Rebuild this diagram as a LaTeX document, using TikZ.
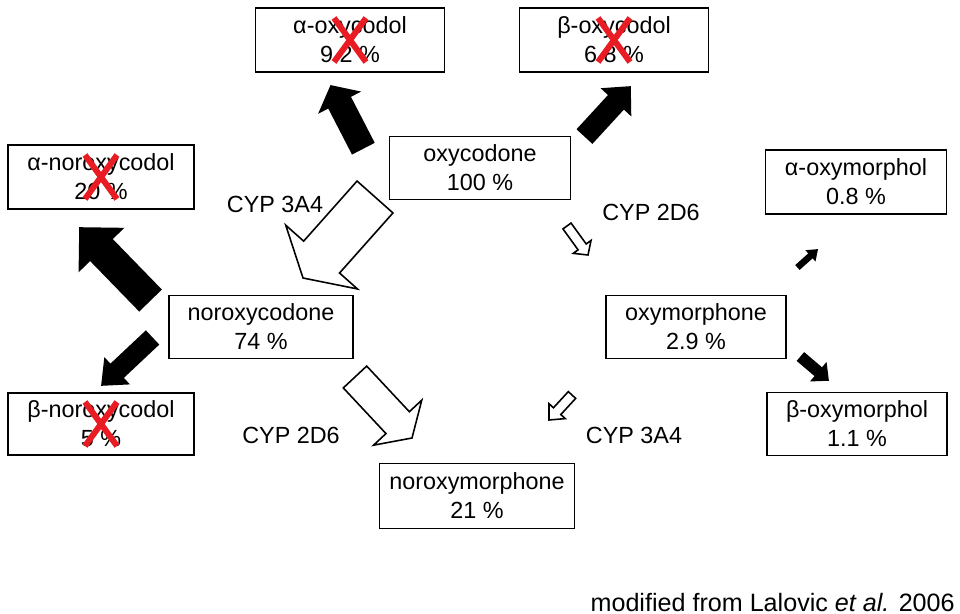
\documentclass[tikz,border=0pt]{standalone}
\usepackage{fontspec}
\setmainfont{Liberation Sans}
\usepackage{xcolor}
\definecolor{xred}{RGB}{232,28,34}
\usepackage{tikz}
\usetikzlibrary{calc}

\tikzset{
  metab/.style={draw, line width=1.1pt, align=center,
    minimum height=1.28cm, inner sep=2pt},
  blockarrow/.style={draw=black, line width=0.9pt, line join=miter},
  redx/.pic={\draw[xred, line width=3.4pt] (-16,-22) -- (16,22) (-16,22) -- (16,-22);}
}

% block arrow: tail, tip, shaft half width, head half width, head length, fill
\newcommand\blockarr[6]{%
  \coordinate (bh) at ($(#2)!#5*0.02cm!(#1)$);
  \draw[blockarrow, fill=#6]
    ($(#1)!#3*0.02cm!90:(#2)$) -- ($(bh)!#3*0.02cm!-90:(#1)$)
    -- ($(bh)!#4*0.02cm!-90:(#1)$) -- (#2)
    -- ($(bh)!#4*0.02cm!90:(#1)$) -- ($(bh)!#3*0.02cm!90:(#1)$)
    -- ($(#1)!#3*0.02cm!-90:(#2)$) -- cycle;}

\begin{document}
\begin{tikzpicture}[x=0.02cm, y=-0.02cm, font=\fontsize{13.3}{16.5}\selectfont]
  \useasboundingbox (0,0) rectangle (960,614);

  % metabolites
  \node[metab, minimum width=3.78cm] (aoxy) at (350,40) {α-oxycodol\\9.2 \%};
  \node[metab, minimum width=3.78cm] (boxy) at (614,40) {β-oxycodol\\6.8 \%};
  \node[metab, minimum width=3.62cm, minimum height=1.26cm] (oxy) at (480,168) {oxycodone\\100 \%};
  \node[metab, minimum width=3.72cm] (anorx) at (101,177) {α-noroxycodol\\20 \%};
  \node[metab, minimum width=3.62cm] (aoxym) at (856,182) {α-oxymorphol\\0.8 \%};
  \node[metab, minimum width=3.68cm, minimum height=1.26cm] (norx) at (261,327) {noroxycodone\\74 \%};
  \node[metab, minimum width=3.6cm, minimum height=1.26cm] (oxym) at (696,327) {oxymorphone\\2.9 \%};
  \node[metab, minimum width=3.72cm, minimum height=1.24cm] (bnorx) at (101,424) {β-noroxycodol\\5 \%};
  \node[metab, minimum width=3.6cm, minimum height=1.26cm] (boxym) at (857,424) {β-oxymorphol\\1.1 \%};
  \node[metab, minimum width=3.9cm, minimum height=1.3cm] (norm) at (477,496) {noroxymorphone\\21 \%};

  % crossed out
  \foreach \n in {aoxy, boxy, anorx, bnorx}
    \pic at (\n.center) {redx};

  % enzymes
  \node (cyp3a) at (275,204) {CYP 3A4};
  \node (cyp2d) at (651,212) {CYP 2D6};
  \node (cyp2db) at (291,435) {CYP 2D6};
  \node (cyp3ab) at (634,435) {CYP 3A4};

  % arrows
  \foreach \i/\xa/\ya/\xb/\yb/\sw/\hw/\hl/\cor in {
    1/363/148/331/86/12/22/18/black,
    2/585/136/630/87/10/19/20/black,
    3/150/300/80/228/15/30/30/black,
    4/152/338/102/385/9/17/20/black,
    5/375/197/303/278/24/48/28/white,
    6/567/226/588/255/5/11/10/white,
    7/355/377/412/438/16/33/21/white,
    8/572/395/549/420/5/11/12/white,
    9/798/267/817/250/2.5/6/8/black,
    10/801/357/828/380/5/11/12/black%
  }{
    \coordinate (ta\i) at (\xa,\ya);
    \coordinate (tb\i) at (\xb,\yb);
    \blockarr{ta\i}{tb\i}{\sw}{\hw}{\hl}{\cor}
  }

  \node[anchor=base east, inner xsep=0pt, font=\fontsize{14.3}{16}\selectfont] (src) at (955,611)
    {modified from Lalovic \textit{et al.} 2006};
\end{tikzpicture}
\end{document}
